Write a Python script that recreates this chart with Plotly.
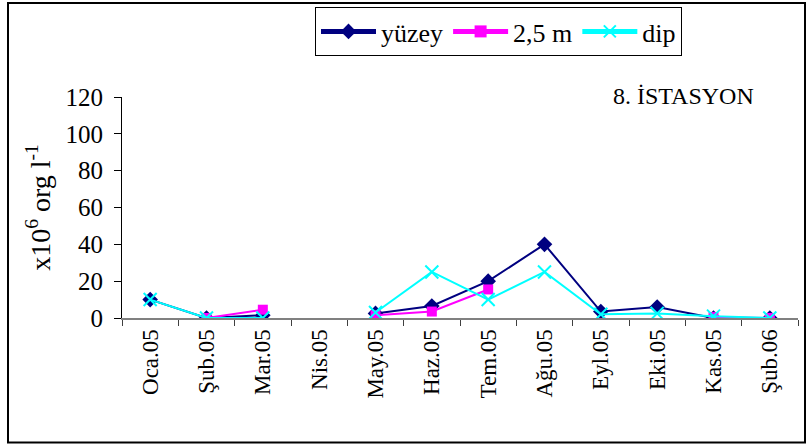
import plotly.graph_objects as go

# Monthly counts (x10^6 org/l) at station 8, three depths
months = ["Oca.05", "Şub.05", "Mar.05", "Nis.05", "May.05", "Haz.05",
          "Tem.05", "Ağu.05", "Eyl.05", "Eki.05", "Kas.05", "Şub.06"]
yuzey = [10, 0, 1.5, None, 2.5, 6.5, 20, 40, 3.5, 6, 0, 0]
m25 = [None, 0, 4.5, None, 1.5, 3.5, 15.5, None, None, None, 0.5, 0]
dip = [10, 0, 0, None, 3, 25, 10, 25, 2, 2.5, 1, 0]
y_ticks = [0, 20, 40, 60, 80, 100, 120]

FONT = "Liberation Serif"
W, H = 806, 446
ML, MR, MT, MB = 122, 8, 96, 128
PW, PH = W - ML - MR, H - MT - MB


def px_x(p):
    return (p - ML) / PW


def px_y(p):
    return (H - MB - p) / PH


fig = go.Figure()
fig.add_trace(go.Scatter(
    x=months, y=yuzey, name="yüzey", mode="lines+markers",
    line=dict(color="#000080", width=2),
    marker=dict(symbol="diamond", size=12, color="#000080"),
))
fig.add_trace(go.Scatter(
    x=months, y=m25, name="2,5 m", mode="lines+markers",
    line=dict(color="#FF00FF", width=2),
    marker=dict(symbol="square", size=10, color="#FF00FF"),
))
fig.add_trace(go.Scatter(
    x=months, y=dip, name="dip", mode="lines+markers",
    line=dict(color="#00FFFF", width=2),
    marker=dict(symbol="x-thin", size=13, color="#00FFFF",
                line=dict(color="#00FFFF", width=2)),
))

fig.update_layout(
    width=W, height=H,
    margin=dict(l=ML, r=MR, t=MT, b=MB, pad=0),
    paper_bgcolor="white", plot_bgcolor="white",
    font=dict(family=FONT, size=20, color="black"),
    showlegend=True,
    legend=dict(
        orientation="h", x=px_x(315), y=px_y(7), xanchor="left", yanchor="top",
        bordercolor="black", borderwidth=1, bgcolor="white",
        font=dict(family=FONT, size=26, color="black"),
        itemwidth=55,
        itemsizing="constant",
        tracegroupgap=0,
    ),
    xaxis=dict(
        type="category", categoryorder="array", categoryarray=months,
        range=[-0.5, len(months) - 0.5],
        showline=True, linecolor="#808080", linewidth=2,
        ticks="outside", ticklen=6, tickcolor="#404040", tickwidth=1,
        tickson="boundaries", tickangle=-90,
        showgrid=False, zeroline=False, fixedrange=True,
        tickfont=dict(family=FONT, size=23, color="black"),
    ),
    yaxis=dict(
        range=[0, 120], tickvals=y_ticks,
        showline=True, linecolor="black", linewidth=1,
        ticks="outside", ticklen=7, tickcolor="black",
        ticklabelstandoff=6,
        showgrid=False, zeroline=False, fixedrange=True,
        tickfont=dict(family=FONT, size=25, color="black"),
        title=dict(text="x10<sup>6</sup> org l<sup>-1</sup>",
                   font=dict(family=FONT, size=28, color="black"), standoff=6),
    ),
    annotations=[dict(
        text="8. İSTASYON", xref="paper", yref="paper",
        x=px_x(683), y=px_y(95), xanchor="center", yanchor="middle",
        showarrow=False, font=dict(family=FONT, size=24, color="black"),
    )],
    shapes=[dict(
        type="rect", xref="paper", yref="paper",
        x0=px_x(8), x1=px_x(805), y0=px_y(443), y1=px_y(1.5),
        line=dict(color="black", width=2), fillcolor="rgba(0,0,0,0)",
        layer="below",
    )],
)

fig.write_html("out.html")
